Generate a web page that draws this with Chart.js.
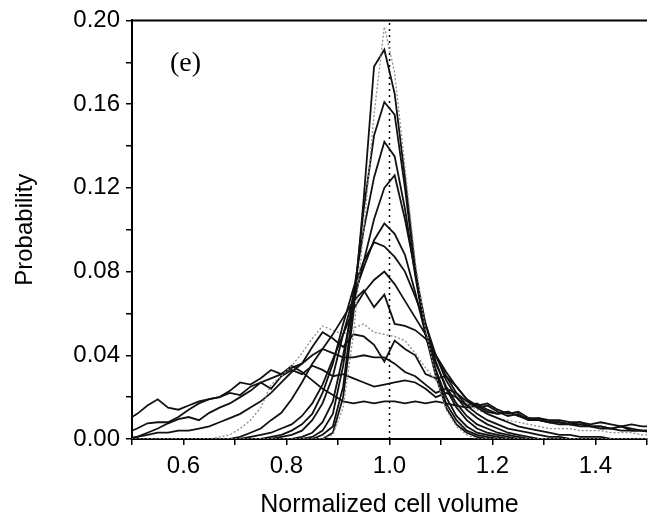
<!DOCTYPE html>
<html>
<head>
<meta charset="utf-8">
<script src="https://cdn.jsdelivr.net/npm/chart.js@4"></script>
<style>
  html, body { margin: 0; padding: 0; background: #fff; }
  #wrap { width: 654px; height: 530px; }
</style>
</head>
<body>
<div id="wrap"><canvas id="volume_chart" width="654" height="530"></canvas></div>
<script>
// normalized cell volume (bin centres)
const volume = [
  0.49, 0.51, 0.53, 0.55, 0.57, 0.59, 0.61, 0.63, 0.65, 0.67, 0.69, 0.71, 0.73,
  0.75, 0.77, 0.79, 0.81, 0.83, 0.85, 0.87, 0.89, 0.91, 0.93, 0.95, 0.97, 0.99,
  1.01, 1.03, 1.05, 1.07, 1.09, 1.11, 1.13, 1.15, 1.17, 1.19, 1.21, 1.23, 1.25,
  1.27, 1.29, 1.31, 1.33, 1.35, 1.37, 1.39, 1.41, 1.43, 1.45, 1.47, 1.49, 1.51
];

// probability curves, narrowest to broadest
const p1 = [
  0, 0, 0, 0, 0, 0, 0, 0, 0, 0, 0, 0, 0,
  0, 0, 0, 0, 0, 0, 0, 0.002, 0.015, 0.05, 0.10, 0.155, 0.197,
  0.175, 0.13, 0.085, 0.052, 0.03, 0.014, 0.006, 0.002, 0, 0, 0, 0, 0,
  0, 0, 0, 0, 0, 0, 0, 0, 0, 0, 0, 0, 0
];
const p2 = [
  0, 0, 0, 0, 0, 0, 0, 0, 0, 0, 0, 0, 0,
  0, 0, 0, 0, 0, 0, 0, 0.003, 0.02, 0.06, 0.115, 0.178, 0.186,
  0.165, 0.125, 0.082, 0.05, 0.03, 0.015, 0.007, 0.003, 0.001, 0, 0, 0, 0,
  0, 0, 0, 0, 0, 0, 0, 0, 0, 0, 0, 0, 0
];
const p3 = [
  0, 0, 0, 0, 0, 0, 0, 0, 0, 0, 0, 0, 0,
  0, 0, 0, 0, 0, 0, 0.002, 0.006, 0.025, 0.065, 0.11, 0.145, 0.161,
  0.155, 0.12, 0.08, 0.05, 0.032, 0.017, 0.009, 0.004, 0.002, 0.001, 0, 0, 0,
  0, 0, 0, 0, 0, 0, 0, 0, 0, 0, 0, 0, 0
];
const p4 = [
  0, 0, 0, 0, 0, 0, 0, 0, 0, 0, 0, 0, 0,
  0, 0, 0, 0, 0, 0.001, 0.004, 0.012, 0.035, 0.07, 0.10, 0.125, 0.142,
  0.135, 0.11, 0.078, 0.05, 0.033, 0.02, 0.011, 0.006, 0.003, 0.002, 0.001, 0, 0,
  0, 0, 0, 0, 0, 0, 0, 0, 0, 0, 0, 0, 0
];
const p5 = [
  0, 0, 0, 0, 0, 0, 0, 0, 0, 0, 0, 0, 0,
  0, 0, 0, 0, 0.001, 0.003, 0.008, 0.018, 0.04, 0.065, 0.085, 0.105, 0.12,
  0.126, 0.105, 0.08, 0.055, 0.037, 0.024, 0.015, 0.009, 0.005, 0.003, 0.002, 0.001, 0,
  0, 0, 0, 0, 0, 0, 0, 0, 0, 0, 0, 0, 0
];
const p6 = [
  0, 0, 0, 0, 0, 0, 0, 0, 0, 0, 0, 0, 0,
  0, 0, 0.001, 0.002, 0.004, 0.009, 0.017, 0.03, 0.05, 0.068, 0.082, 0.095, 0.103,
  0.098, 0.088, 0.07, 0.05, 0.036, 0.025, 0.017, 0.011, 0.007, 0.005, 0.003, 0.002, 0.001,
  0, 0, 0, 0, 0, 0, 0, 0, 0, 0, 0, 0, 0
];
const p7 = [
  0, 0, 0, 0, 0, 0, 0, 0, 0, 0, 0, 0, 0,
  0, 0.001, 0.002, 0.004, 0.007, 0.012, 0.022, 0.036, 0.055, 0.072, 0.085, 0.094, 0.092,
  0.087, 0.08, 0.068, 0.055, 0.04, 0.028, 0.02, 0.014, 0.01, 0.007, 0.005, 0.003, 0.002,
  0.001, 0, 0, 0, 0, 0, 0, 0, 0, 0, 0, 0, 0
];
const p8 = [
  0, 0, 0, 0, 0, 0, 0, 0, 0, 0, 0, 0, 0.001,
  0.002, 0.003, 0.005, 0.007, 0.011, 0.017, 0.026, 0.038, 0.05, 0.062, 0.07, 0.076, 0.080,
  0.074, 0.066, 0.058, 0.05, 0.04, 0.03, 0.022, 0.016, 0.012, 0.009, 0.007, 0.005, 0.004,
  0.003, 0.002, 0.001, 0.001, 0, 0, 0, 0, 0, 0, 0, 0, 0
];
const p9 = [
  0, 0, 0, 0, 0, 0, 0, 0, 0, 0, 0, 0.001, 0.003,
  0.005, 0.009, 0.0125, 0.019, 0.027, 0.036, 0.043, 0.05, 0.058, 0.066, 0.071, 0.063, 0.069,
  0.055, 0.054, 0.052, 0.048, 0.04, 0.032, 0.025, 0.019, 0.015, 0.012, 0.01, 0.008, 0.006,
  0.005, 0.004, 0.003, 0.002, 0.002, 0.001, 0.001, 0.001, 0, 0, 0, 0, 0
];
const p10 = [
  0, 0, 0, 0, 0, 0, 0, 0, 0, 0.001, 0.002, 0.005, 0.009,
  0.015, 0.026, 0.03, 0.035, 0.041, 0.048, 0.054, 0.052, 0.05, 0.053, 0.055, 0.051, 0.05,
  0.049, 0.047, 0.041, 0.034, 0.028, 0.024, 0.02, 0.017, 0.014, 0.012, 0.01, 0.009, 0.008,
  0.007, 0.006, 0.005, 0.005, 0.005, 0.004, 0.004, 0.004, 0.003, 0.003, 0.003, 0.002, 0.002
];
const p11 = [
  0, 0.001, 0.002, 0.003, 0.003, 0.004, 0.004, 0.005, 0.006, 0.008, 0.01, 0.012, 0.015,
  0.018, 0.022, 0.027, 0.032, 0.036, 0.044, 0.051, 0.048, 0.044, 0.05, 0.049, 0.045, 0.037,
  0.047, 0.043, 0.04, 0.031, 0.029, 0.03, 0.025, 0.019, 0.016, 0.017, 0.014, 0.012, 0.013,
  0.01, 0.009, 0.008, 0.007, 0.007, 0.006, 0.006, 0.005, 0.005, 0.004, 0.004, 0.004, 0.003
];
const p12 = [
  0, 0.001, 0.003, 0.005, 0.0075, 0.0095, 0.0105, 0.009, 0.0125, 0.015, 0.017, 0.02, 0.023,
  0.027, 0.029, 0.031, 0.034, 0.036, 0.04, 0.043, 0.041, 0.039, 0.039, 0.04, 0.039, 0.039,
  0.036, 0.032, 0.03, 0.026, 0.022, 0.024, 0.022, 0.018, 0.015, 0.016, 0.013, 0.011, 0.012,
  0.009, 0.009, 0.008, 0.008, 0.007, 0.008, 0.006, 0.006, 0.005, 0.006, 0.005, 0.004, 0.004
];
const p13 = [
  0.003, 0.005, 0.0075, 0.008, 0.008, 0.0105, 0.014, 0.017, 0.019, 0.02, 0.022, 0.021, 0.025,
  0.027, 0.024, 0.03, 0.033, 0.031, 0.035, 0.033, 0.03, 0.031, 0.029, 0.027, 0.025, 0.026,
  0.027, 0.028, 0.027, 0.024, 0.02, 0.022, 0.02, 0.016, 0.017, 0.014, 0.012, 0.013, 0.011,
  0.009, 0.01, 0.008, 0.008, 0.007, 0.007, 0.006, 0.006, 0.005, 0.006, 0.004, 0.004, 0.004
];
const p14 = [
  0.009, 0.012, 0.016, 0.019, 0.015, 0.014, 0.016, 0.018, 0.019, 0.02, 0.023, 0.027, 0.026,
  0.029, 0.033, 0.031, 0.035, 0.032, 0.028, 0.024, 0.021, 0.018, 0.017, 0.018, 0.017, 0.018,
  0.018, 0.017, 0.018, 0.017, 0.018, 0.017, 0.016, 0.015, 0.016, 0.013, 0.012, 0.013, 0.011,
  0.01, 0.01, 0.009, 0.009, 0.008, 0.008, 0.007, 0.008, 0.007, 0.006, 0.007, 0.006, 0.006
];

const curves = [p1, p2, p3, p4, p5, p6, p7, p8, p9, p10, p11, p12, p13, p14];
const grayCurves = [0, 9];   // the light dotted ones
const refVolume = 1.0;
const xTicks = [0.6, 0.8, 1.0, 1.2, 1.4];
const yTicks = [0.00, 0.04, 0.08, 0.12, 0.16, 0.20];

const font = '"Liberation Sans", Arial, sans-serif';

const datasets = curves.map((ys, k) => {
  const gray = grayCurves.includes(k);
  return {
    data: ys.map((y, i) => ({ x: volume[i], y: y })),
    borderColor: gray ? '#8c8c8c' : '#111',
    borderWidth: gray ? 1.3 : 1.8,
    borderDash: gray ? [2, 2] : [],
    pointRadius: 0,
    tension: 0,
    fill: false
  };
});

datasets.push({
  data: [{ x: refVolume, y: yTicks[0] }, { x: refVolume, y: yTicks[yTicks.length - 1] }],
  borderColor: '#000',
  borderWidth: 1.5,
  borderDash: [2, 4],
  pointRadius: 0,
  fill: false
});

const near = (list, v) => list.some(t => Math.abs(t - v) < 1e-6);

const framePlugin = {
  id: 'frame',
  afterDraw(chart) {
    const { ctx, chartArea } = chart;
    ctx.save();
    ctx.strokeStyle = '#000';
    ctx.lineWidth = 2;
    ctx.beginPath();
    ctx.moveTo(chartArea.left, chartArea.top);
    ctx.lineTo(chartArea.right, chartArea.top);
    ctx.stroke();
    ctx.fillStyle = '#000';
    ctx.font = '28px "Liberation Serif", "Times New Roman", serif';
    ctx.textBaseline = 'middle';
    ctx.fillText('(e)', chartArea.left + 38, chartArea.top + 43);
    ctx.restore();
  }
};

const ctx = document.getElementById('volume_chart').getContext('2d');

const volume_chart = new Chart(ctx, {
  type: 'line',
  data: { datasets: datasets },
  options: {
    responsive: false,
    animation: false,
    layout: { padding: { top: 20, right: 0, left: 0, bottom: 0 } },
    plugins: { legend: { display: false }, tooltip: { enabled: false } },
    scales: {
      x: {
        type: 'linear',
        min: 0.5,
        max: 1.5,
        afterFit(scale) { scale.height = 91; },
        ticks: {
          stepSize: 0.1,
          autoSkip: false,
          maxRotation: 0,
          color: '#000',
          padding: 7,
          font: { family: font, size: 24 },
          callback: v => near(xTicks, v) ? v.toFixed(1) : ''
        },
        grid: { drawOnChartArea: false, drawTicks: true, tickLength: 6, color: '#000', lineWidth: 1.5 },
        border: { display: true, color: '#000', width: 2 },
        title: {
          display: true,
          text: 'Normalized cell volume',
          color: '#000',
          font: { family: font, size: 25 },
          padding: { top: 0, bottom: 10 }
        }
      },
      y: {
        min: 0,
        max: 0.2,
        afterFit(scale) { scale.width = 132; },
        ticks: {
          stepSize: 0.02,
          autoSkip: false,
          color: '#000',
          padding: 6,
          font: { family: font, size: 24 },
          callback: v => near(yTicks, v) ? v.toFixed(2) : ''
        },
        grid: { drawOnChartArea: false, drawTicks: true, tickLength: 6, color: '#000', lineWidth: 1.5 },
        border: { display: true, color: '#000', width: 2 },
        title: {
          display: true,
          text: 'Probability',
          color: '#000',
          font: { family: font, size: 24 },
          padding: { top: 11, bottom: 0 }
        }
      }
    }
  },
  plugins: [framePlugin]
});
</script>
</body>
</html>
